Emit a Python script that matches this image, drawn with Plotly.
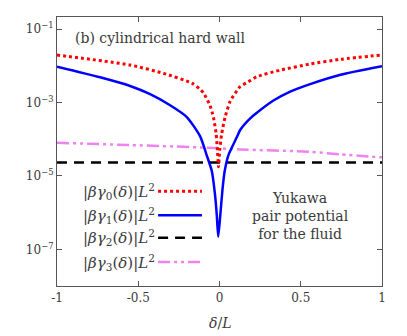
import plotly.graph_objects as go

# ---- data ----
x_g0 = [-1.0, -0.55, -0.345, -0.17, -0.119, -0.099, -0.058, -0.037, -0.021, -0.013, -0.006,
        0.001, 0.014, 0.035, 0.066, 0.107, 0.127, 0.178, 0.23, 0.374, 0.558, 0.745, 1.0]
y_g0 = [0.0199, 0.0106, 6.3e-3, 3.4e-3, 2.3e-3, 1.85e-3, 8.3e-4, 3.9e-4, 1.45e-4, 5.1e-5, 1.78e-5,
        5.1e-5, 1.45e-4, 4.12e-4, 1.1e-3, 2.1e-3, 2.72e-3, 3.72e-3, 5.1e-3, 7.7e-3, 0.0113, 0.0152, 0.0199]

x_g1 = [-1.0, -0.735, -0.55, -0.427, -0.304, -0.201, -0.119, -0.078, -0.047, -0.027, -0.016, -0.008,
        0.004, 0.018, 0.032, 0.055, 0.107, 0.127, 0.189, 0.23, 0.332, 0.435, 0.558, 0.745, 1.0]
y_g1 = [9.55e-3, 4.9e-3, 2.84e-3, 1.7e-3, 8.5e-4, 4.05e-4, 1.2e-4, 3.6e-5, 1.35e-5, 2.9e-6, 7.7e-7, 2.2e-7,
        7.7e-7, 4.1e-6, 1.36e-5, 3.7e-5, 1.15e-4, 1.79e-4, 3.73e-4, 5.3e-4, 1.14e-3, 2.0e-3, 3.2e-3, 5.75e-3, 9.8e-3]

x_g2 = [-1.0, 1.0]
y_g2 = [2.32e-5, 2.32e-5]

x_g3 = [-1.0, -0.55, -0.119, 0.127, 0.558, 0.745, 1.0]
y_g3 = [8.05e-5, 6.97e-5, 6.0e-5, 5.3e-5, 4.57e-5, 3.88e-5, 3.22e-5]

x_tickvals = [-1, -0.5, 0, 0.5, 1]
x_ticktext = ["-1", "-0.5", "0", "0.5", "1"]
y_tickvals = [1e-1, 1e-3, 1e-5, 1e-7]
y_ticktext = ["10<sup>−1</sup>", "10<sup>−3</sup>", "10<sup>−5</sup>", "10<sup>−7</sup>"]

labels = [
    "|<i>βγ</i><sub>0</sub>(<i>δ</i>)|<i>L</i><sup>2</sup>",
    "|<i>βγ</i><sub>1</sub>(<i>δ</i>)|<i>L</i><sup>2</sup>",
    "|<i>βγ</i><sub>2</sub>(<i>δ</i>)|<i>L</i><sup>2</sup>",
    "|<i>βγ</i><sub>3</sub>(<i>δ</i>)|<i>L</i><sup>2</sup>",
]
colors = ["#ff0000", "#0000ff", "#000000", "#ee82ee"]
dashes = ["3px,3px", "solid", "10px,7px", "12px,4px,3px,4px,3px,4px"]
widths = [3, 2.5, 2.5, 2.5]

FONT = "DejaVu Serif"
TXT = "#3a3a3a"

fig = go.Figure()
series = [(x_g0, y_g0), (x_g1, y_g1), (x_g2, y_g2), (x_g3, y_g3)]
for i in [3, 2, 1, 0]:
    xs, ys = series[i]
    fig.add_trace(go.Scatter(
        x=xs, y=ys, mode="lines", showlegend=False,
        line=dict(color=colors[i], width=widths[i], dash=dashes[i],
                  shape="spline" if i in (0, 1, 3) else "linear", smoothing=0.6),
    ))

axis_common = dict(ticks="inside", ticklen=5, tickcolor="#555", showgrid=False, zeroline=False,
                   showline=True, linecolor="#555", linewidth=1.2, mirror="ticks",
                   tickfont=dict(family=FONT, size=12, color=TXT))
fig.update_layout(
    width=407, height=336,
    margin=dict(l=49, r=33, t=9, b=58),
    paper_bgcolor="white", plot_bgcolor="white",
    font=dict(family=FONT, size=14, color=TXT),
    xaxis=dict(range=[-1, 1], tickvals=x_tickvals, ticktext=x_ticktext, **axis_common),
    yaxis=dict(type="log", range=[-8, -0.665], tickvals=y_tickvals, ticktext=y_ticktext, **axis_common),
)

annotations = [
    dict(text="(b) cylindrical hard wall", x=0.049, y=0.922, xref="paper", yref="paper",
         xanchor="left", yanchor="middle", showarrow=False, font=dict(size=14)),
    dict(text="<i>δ</i>/<i>L</i>", x=0.5, y=-0.138, xref="paper", yref="paper",
         xanchor="center", yanchor="middle", showarrow=False, font=dict(size=14)),
    dict(text="Yukawa<br>pair potential<br>for the fluid", x=0.748, y=0.259, xref="paper", yref="paper",
         xanchor="center", yanchor="middle", showarrow=False, font=dict(size=14), align="center"),
]
row_y = [0.352, 0.263, 0.179, 0.089]
shapes = []
for i in range(4):
    annotations.append(dict(text=labels[i], x=0.308, y=row_y[i], xref="paper", yref="paper",
                            xanchor="right", yanchor="middle", showarrow=False, font=dict(size=15)))
    shapes.append(dict(type="line", xref="paper", yref="paper", x0=0.311, x1=0.446,
                       y0=row_y[i], y1=row_y[i],
                       line=dict(color=colors[i], width=widths[i], dash=dashes[i])))
fig.update_layout(annotations=annotations, shapes=shapes)

fig.write_html("out.html")
